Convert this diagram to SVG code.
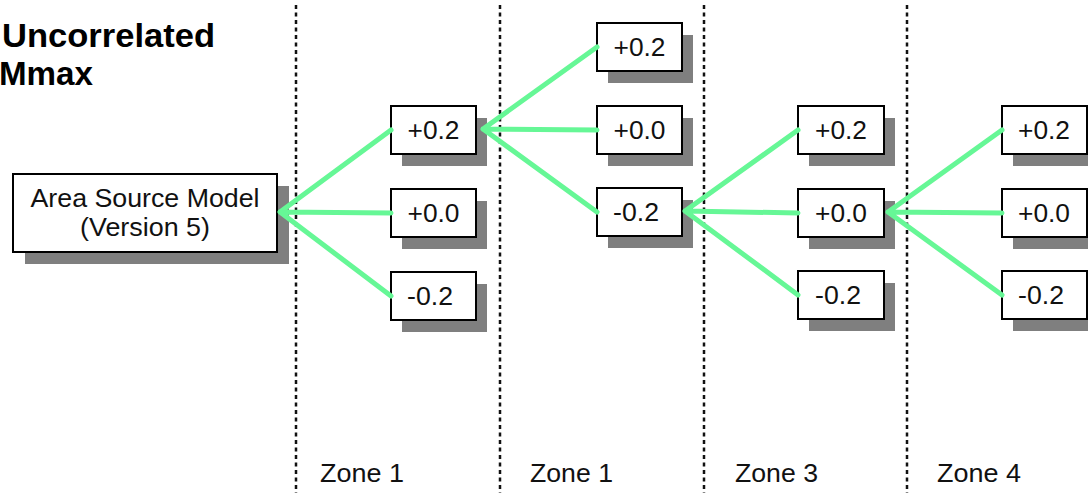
<svg xmlns="http://www.w3.org/2000/svg" width="1088" height="493" viewBox="0 0 1088 493">
<style>
.sh{fill:#7f7f7f}
.bx{fill:#fff;stroke:#000;stroke-width:2}
.t{font-family:"Liberation Sans",Arial,sans-serif;font-size:25px;fill:#111;text-anchor:middle}
.z{font-family:"Liberation Sans",Arial,sans-serif;font-size:25px;fill:#111}
.ttl{font-family:"Liberation Sans",Arial,sans-serif;font-size:34px;font-weight:bold;fill:#000}
.dv{stroke:#111;stroke-width:2.5;stroke-dasharray:4 3.5;fill:none}
.cn{stroke:#66f796;stroke-width:5;fill:none;stroke-linecap:round}
</style>
<rect width="1088" height="493" fill="#fff"/>
<text class="ttl" x="2" y="47" textLength="213" lengthAdjust="spacingAndGlyphs">Uncorrelated</text>
<text class="ttl" x="-1" y="85" textLength="94" lengthAdjust="spacingAndGlyphs">Mmax</text>
<g id="dividers">
<line class="dv" x1="296" y1="5" x2="296" y2="493"/>
<line class="dv" x1="500" y1="5" x2="500" y2="493"/>
<line class="dv" x1="704" y1="5" x2="704" y2="493"/>
<line class="dv" x1="907" y1="5" x2="907" y2="493"/>
</g>
<g id="zone-labels">
<text class="z" x="320" y="482" textLength="84" lengthAdjust="spacingAndGlyphs">Zone 1</text>
<text class="z" x="530" y="482" textLength="83" lengthAdjust="spacingAndGlyphs">Zone 1</text>
<text class="z" x="735" y="482" textLength="83" lengthAdjust="spacingAndGlyphs">Zone 3</text>
<text class="z" x="937" y="482" textLength="84" lengthAdjust="spacingAndGlyphs">Zone 4</text>
</g>
<g id="source">
<rect class="sh" x="25" y="186" width="264" height="78"/>
<rect class="bx" x="13" y="174" width="264" height="78"/>
<text class="t" x="145" y="207" textLength="229" lengthAdjust="spacingAndGlyphs">Area Source Model</text>
<text class="t" x="145" y="236" textLength="130" lengthAdjust="spacingAndGlyphs">(Version 5)</text>
</g>
<g id="z1a"><rect class="sh" x="402" y="118" width="85" height="48"/><rect class="bx" x="391" y="106" width="85" height="48"/><text class="t" x="433.5" y="139" textLength="52" lengthAdjust="spacingAndGlyphs">+0.2</text></g>
<g id="z1b"><rect class="sh" x="402" y="201" width="85" height="48"/><rect class="bx" x="391" y="189" width="85" height="48"/><text class="t" x="433.5" y="222" textLength="52" lengthAdjust="spacingAndGlyphs">+0.0</text></g>
<g id="z1c"><rect class="sh" x="402" y="284" width="85" height="48"/><rect class="bx" x="391" y="272" width="85" height="48"/><text class="t" x="430" y="305" textLength="46" lengthAdjust="spacingAndGlyphs">-0.2</text></g>
<g id="z2a"><rect class="sh" x="608" y="35" width="85" height="48"/><rect class="bx" x="597" y="23" width="85" height="48"/><text class="t" x="639.5" y="56" textLength="52" lengthAdjust="spacingAndGlyphs">+0.2</text></g>
<g id="z2b"><rect class="sh" x="608" y="118" width="85" height="48"/><rect class="bx" x="597" y="106" width="85" height="48"/><text class="t" x="639.5" y="139" textLength="52" lengthAdjust="spacingAndGlyphs">+0.0</text></g>
<g id="z2c"><rect class="sh" x="608" y="200" width="85" height="48"/><rect class="bx" x="597" y="188" width="85" height="48"/><text class="t" x="636" y="221" textLength="46" lengthAdjust="spacingAndGlyphs">-0.2</text></g>
<g id="z3a"><rect class="sh" x="809" y="118" width="86" height="48"/><rect class="bx" x="798" y="106" width="86" height="48"/><text class="t" x="841" y="139" textLength="52" lengthAdjust="spacingAndGlyphs">+0.2</text></g>
<g id="z3b"><rect class="sh" x="809" y="201" width="86" height="48"/><rect class="bx" x="798" y="189" width="86" height="48"/><text class="t" x="841" y="222" textLength="52" lengthAdjust="spacingAndGlyphs">+0.0</text></g>
<g id="z3c"><rect class="sh" x="809" y="283" width="86" height="48"/><rect class="bx" x="798" y="271" width="86" height="48"/><text class="t" x="838" y="304" textLength="46" lengthAdjust="spacingAndGlyphs">-0.2</text></g>
<g id="z4a"><rect class="sh" x="1013" y="118" width="85" height="48"/><rect class="bx" x="1002" y="106" width="85" height="48"/><text class="t" x="1044" y="139" textLength="52" lengthAdjust="spacingAndGlyphs">+0.2</text></g>
<g id="z4b"><rect class="sh" x="1013" y="201" width="85" height="48"/><rect class="bx" x="1002" y="189" width="85" height="48"/><text class="t" x="1044" y="222" textLength="52" lengthAdjust="spacingAndGlyphs">+0.0</text></g>
<g id="z4c"><rect class="sh" x="1013" y="283" width="85" height="48"/><rect class="bx" x="1002" y="271" width="85" height="48"/><text class="t" x="1041" y="304" textLength="46" lengthAdjust="spacingAndGlyphs">-0.2</text></g>
<g id="connectors">
<path class="cn" d="M280 212 L391 130 M280 212 L391 213 M280 212 L391 296"/>
<path class="cn" d="M483 129 L597 47 M483 129 L597 130 M483 129 L597 212"/>
<path class="cn" d="M685 211 L798 130 M685 211 L798 213 M685 211 L798 295"/>
<path class="cn" d="M888 212 L1002 130 M888 212 L1002 213 M888 212 L1002 295"/>
</g>
</svg>
